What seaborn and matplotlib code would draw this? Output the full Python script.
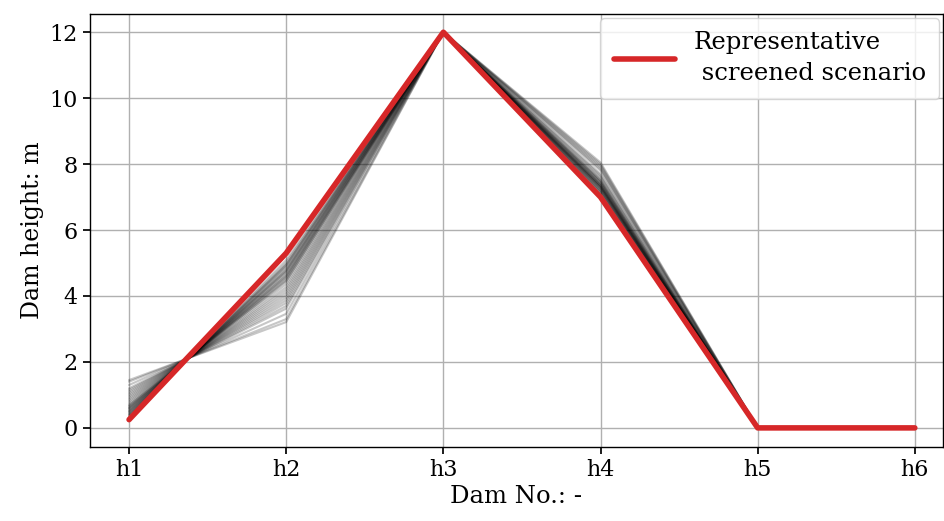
import numpy as np
import pandas as pd
import matplotlib
matplotlib.use("Agg")
import matplotlib.pyplot as plt
import seaborn as sns

# dam labels
dams = ["h1", "h2", "h3", "h4", "h5", "h6"]

# screened scenarios (gray lines), one value per dam
h1 = [0.30, 0.35, 0.38, 0.40, 0.42, 0.45, 0.48, 0.50, 0.52, 0.55, 0.58, 0.60, 0.62,
      0.65, 0.68, 0.70, 0.75, 0.80, 0.85, 0.90, 0.95, 1.00, 1.05, 1.10, 1.15, 1.20,
      1.30, 1.40, 1.45]
h2 = [5.09, 5.01, 4.96, 4.93, 4.89, 4.84, 4.79, 4.76, 4.73, 4.68, 4.63, 4.60, 4.56,
      4.52, 4.47, 4.44, 4.36, 4.27, 4.19, 4.11, 4.03, 3.95, 3.87, 3.79, 3.70, 3.62,
      3.46, 3.30, 3.21]
h3 = [12.0] * len(h1)
h4 = [7.10, 7.15, 7.20, 7.30, 7.25, 7.35, 7.40, 7.20, 7.45, 7.30, 7.50, 7.25, 7.60,
      7.35, 7.40, 7.15, 7.70, 7.45, 7.80, 7.30, 7.90, 7.55, 8.00, 7.65, 7.35, 8.05,
      7.50, 7.85, 7.95]
h5 = [0.0] * len(h1)
h6 = [0.0] * len(h1)

# representative scenario (red)
rep = [0.25, 5.30, 12.0, 7.0, 0.0, 0.0]

rows = []
for i in range(len(h1)):
    vals = [h1[i], h2[i], h3[i], h4[i], h5[i], h6[i]]
    for j, d in enumerate(dams):
        rows.append({"scenario": i, "pos": j, "height": vals[j]})
df = pd.DataFrame(rows)
df_rep = pd.DataFrame({"pos": range(len(dams)), "height": rep})

sns.set_theme(style="ticks")
plt.rcParams["font.family"] = ["DejaVu Serif"]
plt.rcParams["mathtext.fontset"] = "dejavuserif"

fig, ax = plt.subplots(figsize=(9.45, 5.21), dpi=100)
fig.subplots_adjust(left=0.095, right=0.998, top=0.973, bottom=0.142)

sns.lineplot(data=df, x="pos", y="height", units="scenario", estimator=None,
             color="black", alpha=0.22, lw=1.5, ax=ax, legend=False)
sns.lineplot(data=df_rep, x="pos", y="height", color="#d62728", lw=4,
             ax=ax, label="Representative\n screened scenario")

ax.set_xticks(range(len(dams)))
ax.set_xticklabels(dams)
ax.set_xlim(-0.25, 5.18)
ax.set_ylim(-0.58, 12.55)
ax.set_yticks([0, 2, 4, 6, 8, 10, 12])
ax.grid(True, color="#b0b0b0", lw=1)
ax.set_axisbelow(True)
for s in ax.spines.values():
    s.set_color("black")
    s.set_linewidth(1)
ax.tick_params(labelsize=16, length=5, color="black", labelcolor="black")
ax.set_xlabel("Dam No.: -", fontsize=17.5, color="black", labelpad=3)
ax.set_ylabel("Dam height: m", fontsize=17, color="black")

leg = ax.legend(loc="upper right", fontsize=17.5, framealpha=0.8, edgecolor="#cccccc",
                handlelength=2.5, borderaxespad=0.15, borderpad=0.55)
for t in leg.get_texts():
    t.set_color("black")
    t.set_linespacing(1.45)

fig.savefig("out.png", dpi=100)
